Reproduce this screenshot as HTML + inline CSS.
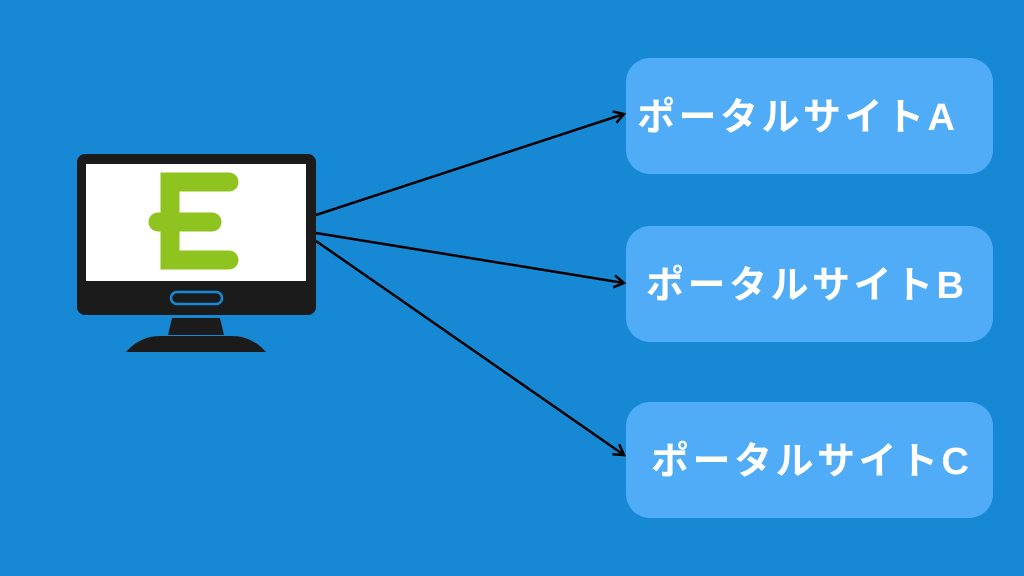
<!DOCTYPE html>
<html><head><meta charset="utf-8"><style>
body{margin:0;width:1024px;height:576px;background:#1789d4;overflow:hidden;position:relative;font-family:"Liberation Sans","Noto Sans CJK JP",sans-serif}
.box{position:absolute;left:626px;width:367px;height:116px;background:#50acf7;border-radius:24px;color:#fff;font-weight:bold;font-size:38px;letter-spacing:3.5px;line-height:1;box-sizing:border-box;white-space:nowrap}
.box span{position:absolute;top:41px}
</style></head><body>
<div class="box" style="top:58px"><span style="left:11px">ポータルサイトA</span></div>
<div class="box" style="top:226px"><span style="left:20px">ポータルサイトB</span></div>
<div class="box" style="top:402px"><span style="left:25px">ポータルサイトC</span></div>
<svg width="1024" height="576" style="position:absolute;left:0;top:0">
<defs><marker id="a" markerWidth="14" markerHeight="14" refX="11" refY="7" orient="auto" markerUnits="userSpaceOnUse"><path d="M1,1 L11,7 L1,13" fill="none" stroke="#000" stroke-width="2.5"/></marker></defs>
<g stroke="#000" stroke-width="2.5" fill="none" marker-end="url(#a)">
<line x1="316" y1="215" x2="624" y2="114"/>
<line x1="316" y1="233" x2="624" y2="283"/>
<line x1="316" y1="241" x2="624" y2="455"/>
</g>
<rect x="77" y="154" width="239" height="161" rx="8" fill="#1c1b1c"/>
<rect x="86" y="164" width="220" height="117" fill="#fff"/>
<rect x="171" y="292" width="51" height="12" rx="6" fill="#1c1b1c" stroke="#1789d4" stroke-width="2.5"/>
<path d="M172,318 L220,318 L224,335 L168,335 Z" fill="#1c1b1c"/>
<path d="M126,352 Q140,336 160,336 L232,336 Q252,336 266,352 Z" fill="#1c1b1c"/>
<g stroke="#8fc31f" stroke-width="19" stroke-linecap="round" fill="none">
<path d="M229,182 L170,182 L170,260 L229,260"/>
<path d="M158,222 L212,222"/>
</g>
</svg>
</body></html>
